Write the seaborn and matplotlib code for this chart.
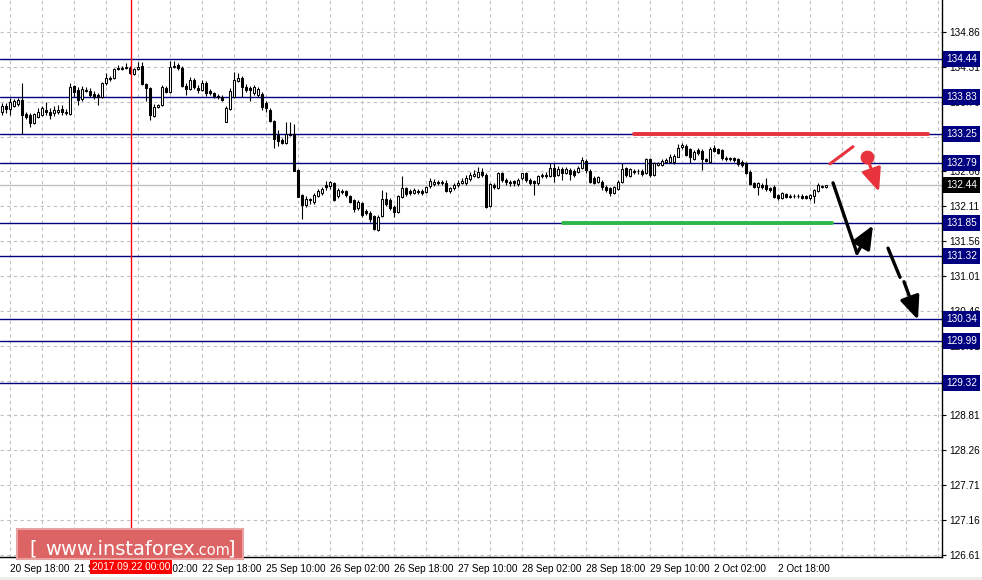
import numpy as np
import pandas as pd
import seaborn as sns
import matplotlib
matplotlib.use("Agg")
import matplotlib.pyplot as plt
from matplotlib.patches import Rectangle, FancyArrowPatch
from matplotlib.transforms import blended_transform_factory

# H1 candles, first bar = 20 Sep 16:00
opens = [
    133.60, 133.69, 133.64, 133.69, 133.72, 133.79, 133.57, 133.55, 133.42, 133.52,
    133.55, 133.63, 133.60, 133.58, 133.60, 133.64, 133.60, 133.57, 134.01, 133.94,
    133.80, 133.94, 133.93, 133.88, 133.87, 133.83, 134.05, 134.13, 134.13, 134.29,
    134.28, 134.29, 134.29, 134.20, 134.28, 134.32, 134.04, 133.98, 133.53, 133.68,
    133.71, 133.98, 133.91, 134.30, 134.34, 134.29, 134.01, 133.96, 134.10, 133.98,
    133.94, 134.05, 133.93, 133.90, 133.85, 133.83, 133.44, 133.64, 133.83, 134.09,
    134.13, 133.99, 133.98, 133.90, 133.87, 133.88, 133.74, 133.63, 133.46, 133.23,
    133.16, 133.11, 133.25, 133.25, 132.68, 132.29, 132.13, 132.23, 132.18, 132.27,
    132.32, 132.45, 132.43, 132.48, 132.27, 132.34, 132.35, 132.27, 132.21, 132.08,
    132.16, 132.04, 132.00, 131.96, 131.74, 131.96, 132.23, 132.21, 132.10, 132.02,
    132.26, 132.40, 132.35, 132.32, 132.35, 132.35, 132.34, 132.43, 132.46, 132.49,
    132.48, 132.48, 132.35, 132.40, 132.45, 132.48, 132.48, 132.54, 132.59, 132.57,
    132.65, 132.60, 132.11, 132.45, 132.40, 132.64, 132.53, 132.49, 132.51, 132.46,
    132.55, 132.64, 132.53, 132.51, 132.48, 132.59, 132.60, 132.59, 132.71, 132.60,
    132.70, 132.64, 132.68, 132.67, 132.65, 132.71, 132.82, 132.67, 132.56, 132.49,
    132.49, 132.41, 132.40, 132.32, 132.38, 132.49, 132.71, 132.59, 132.67, 132.67,
    132.67, 132.64, 132.86, 132.60, 132.76, 132.76, 132.81, 132.81, 132.81, 132.89,
    133.05, 133.06, 133.01, 132.86, 133.00, 132.98, 132.86, 132.81, 133.03, 133.01,
    133.00, 132.87, 132.87, 132.87, 132.86, 132.81, 132.79, 132.65, 132.48, 132.41,
    132.45, 132.45, 132.40, 132.41, 132.29, 132.24, 132.30, 132.26, 132.27, 132.28,
    132.27, 132.27, 132.24, 132.27, 132.35, 132.41, 132.42,
]
highs = [
    133.74, 133.74, 133.82, 133.80, 133.82, 134.05, 133.60, 133.58, 133.58, 133.66,
    133.69, 133.76, 133.66, 133.69, 133.71, 133.71, 133.64, 134.05, 134.02, 133.99,
    134.01, 133.99, 133.98, 133.93, 133.90, 134.07, 134.21, 134.17, 134.29, 134.34,
    134.32, 134.37, 134.32, 134.29, 134.39, 134.39, 134.05, 133.99, 133.72, 133.72,
    134.02, 134.01, 134.40, 134.40, 134.37, 134.32, 134.05, 134.15, 134.13, 134.02,
    134.10, 134.09, 133.96, 133.91, 133.88, 133.87, 133.69, 133.98, 134.23, 134.21,
    134.17, 134.04, 134.01, 134.02, 133.99, 133.91, 133.77, 133.66, 133.47, 133.31,
    133.19, 133.44, 133.44, 133.41, 132.70, 132.30, 132.27, 132.24, 132.32, 132.38,
    132.41, 132.51, 132.51, 132.49, 132.40, 132.38, 132.37, 132.29, 132.23, 132.21,
    132.18, 132.07, 132.04, 131.97, 131.97, 132.37, 132.34, 132.24, 132.13, 132.29,
    132.59, 132.41, 132.38, 132.40, 132.38, 132.38, 132.43, 132.56, 132.54, 132.53,
    132.53, 132.53, 132.41, 132.48, 132.53, 132.56, 132.60, 132.65, 132.68, 132.73,
    132.71, 132.64, 132.48, 132.48, 132.65, 132.65, 132.56, 132.53, 132.53, 132.56,
    132.64, 132.65, 132.56, 132.53, 132.60, 132.64, 132.65, 132.79, 132.79, 132.75,
    132.73, 132.73, 132.71, 132.70, 132.75, 132.89, 132.86, 132.70, 132.59, 132.59,
    132.53, 132.45, 132.41, 132.43, 132.53, 132.79, 132.73, 132.71, 132.70, 132.70,
    132.70, 132.87, 132.87, 132.81, 132.81, 132.86, 132.87, 132.94, 132.94, 133.09,
    133.11, 133.09, 133.03, 133.00, 133.03, 133.01, 132.87, 133.05, 133.08, 133.03,
    133.01, 132.90, 132.89, 132.89, 132.87, 132.84, 132.81, 132.68, 132.49, 132.49,
    132.48, 132.56, 132.41, 132.45, 132.30, 132.34, 132.32, 132.30, 132.30, 132.30,
    132.30, 132.29, 132.30, 132.38, 132.48, 132.45, 132.45,
]
lows = [
    133.55, 133.58, 133.55, 133.68, 133.69, 133.25, 133.49, 133.36, 133.41, 133.50,
    133.53, 133.55, 133.49, 133.53, 133.57, 133.55, 133.55, 133.55, 133.83, 133.71,
    133.77, 133.91, 133.83, 133.80, 133.71, 133.82, 134.02, 134.09, 134.12, 134.26,
    134.26, 134.28, 134.20, 134.18, 134.26, 134.02, 133.77, 133.47, 133.52, 133.66,
    133.69, 133.90, 133.90, 134.29, 134.26, 133.99, 133.87, 133.94, 133.96, 133.90,
    133.93, 133.85, 133.87, 133.82, 133.80, 133.77, 133.44, 133.63, 133.82, 134.07,
    133.83, 133.91, 133.77, 133.87, 133.83, 133.63, 133.60, 133.44, 133.03, 133.06,
    133.09, 133.09, 133.22, 132.66, 132.25, 131.91, 132.10, 132.15, 132.15, 132.26,
    132.29, 132.37, 132.38, 132.19, 132.24, 132.30, 132.26, 132.16, 132.02, 132.05,
    131.94, 131.97, 131.86, 131.74, 131.72, 131.94, 132.11, 132.05, 131.94, 132.00,
    132.24, 132.27, 132.29, 132.30, 132.30, 132.29, 132.32, 132.40, 132.43, 132.45,
    132.45, 132.34, 132.32, 132.37, 132.41, 132.46, 132.45, 132.51, 132.57, 132.56,
    132.57, 132.08, 132.10, 132.38, 132.38, 132.49, 132.45, 132.43, 132.43, 132.43,
    132.53, 132.49, 132.45, 132.29, 132.45, 132.56, 132.56, 132.57, 132.49, 132.59,
    132.53, 132.62, 132.53, 132.57, 132.64, 132.70, 132.64, 132.48, 132.46, 132.48,
    132.37, 132.34, 132.27, 132.30, 132.37, 132.48, 132.57, 132.57, 132.62, 132.62,
    132.59, 132.62, 132.57, 132.59, 132.75, 132.75, 132.79, 132.79, 132.78, 132.88,
    133.01, 132.90, 132.79, 132.84, 132.92, 132.68, 132.81, 132.80, 132.97, 132.94,
    132.84, 132.82, 132.82, 132.81, 132.75, 132.73, 132.62, 132.45, 132.40, 132.29,
    132.38, 132.35, 132.34, 132.24, 132.21, 132.23, 132.24, 132.24, 132.24, 132.24,
    132.23, 132.23, 132.21, 132.16, 132.34, 132.40, 132.40,
]
closes = [
    133.69, 133.64, 133.76, 133.77, 133.79, 133.55, 133.52, 133.42, 133.57, 133.60,
    133.66, 133.60, 133.55, 133.63, 133.63, 133.60, 133.58, 133.99, 133.91, 133.79,
    133.96, 133.93, 133.87, 133.83, 133.83, 134.05, 134.13, 134.12, 134.28, 134.28,
    134.29, 134.31, 134.21, 134.28, 134.31, 134.04, 133.98, 133.55, 133.68, 133.71,
    133.99, 133.91, 134.31, 134.32, 134.29, 134.01, 133.96, 134.10, 133.99, 133.94,
    134.05, 133.90, 133.90, 133.85, 133.84, 133.79, 133.66, 133.93, 134.10, 134.13,
    133.99, 133.94, 133.94, 133.99, 133.96, 133.68, 133.66, 133.46, 133.17, 133.14,
    133.11, 133.25, 133.23, 132.67, 132.26, 132.13, 132.23, 132.21, 132.29, 132.35,
    132.38, 132.41, 132.49, 132.21, 132.37, 132.35, 132.29, 132.18, 132.07, 132.18,
    131.97, 132.00, 131.91, 131.75, 131.94, 132.23, 132.15, 132.08, 132.02, 132.27,
    132.40, 132.30, 132.32, 132.37, 132.34, 132.32, 132.41, 132.51, 132.49, 132.48,
    132.49, 132.35, 132.40, 132.45, 132.48, 132.51, 132.56, 132.60, 132.62, 132.65,
    132.60, 132.10, 132.46, 132.41, 132.64, 132.53, 132.49, 132.48, 132.48, 132.53,
    132.63, 132.53, 132.48, 132.48, 132.59, 132.60, 132.59, 132.71, 132.59, 132.70,
    132.64, 132.70, 132.62, 132.60, 132.71, 132.84, 132.68, 132.49, 132.48, 132.57,
    132.41, 132.37, 132.32, 132.41, 132.49, 132.70, 132.60, 132.70, 132.65, 132.66,
    132.62, 132.86, 132.60, 132.79, 132.79, 132.82, 132.84, 132.89, 132.90, 133.03,
    133.08, 132.92, 132.89, 132.97, 132.95, 132.86, 132.82, 133.01, 132.98, 132.95,
    132.87, 132.86, 132.85, 132.84, 132.78, 132.76, 132.64, 132.46, 132.41, 132.48,
    132.41, 132.38, 132.37, 132.26, 132.24, 132.32, 132.26, 132.27, 132.28, 132.27,
    132.24, 132.24, 132.29, 132.37, 132.45, 132.43, 132.44,
]

time_labels = ["20 Sep 18:00", "21 Sep 10:00", "22 Sep 02:00", "22 Sep 18:00",
               "25 Sep 10:00", "26 Sep 02:00", "26 Sep 18:00", "27 Sep 10:00",
               "28 Sep 02:00", "28 Sep 18:00", "29 Sep 10:00", "2 Oct 02:00",
               "2 Oct 18:00"]
label_bars = [0, 16, 32, 48, 64, 80, 96, 112, 128, 144, 160, 176, 192]

price_ticks = [134.86, 134.31, 133.76, 133.21, 132.66, 132.11, 131.56, 131.01,
               130.46, 129.91, 129.36, 128.81, 128.26, 127.71, 127.16, 126.61]
levels = [134.44, 133.83, 133.25, 132.79, 131.85, 131.32, 130.34, 129.99, 129.32]
bid = 132.44
marker_bar = 30.25  # 2017.09.22 00:00

RED = "#e8323c"
GREEN = "#2fb84a"
NAVY = "#000080"

sns.set_theme(style="white")
plt.rcParams["font.family"] = ["Liberation Sans", "DejaVu Sans"]

fig = plt.figure(figsize=(9.82, 5.8), dpi=100)
ax = fig.add_axes([0, 23 / 580, 942 / 982, 557 / 580])
ax.set_facecolor("white")

df = pd.DataFrame({"bar": np.arange(-2, -2 + len(closes)), "open": opens,
                   "high": highs, "low": lows, "close": closes})
up = df["close"] >= df["open"]

ax.set_xlim(-2.5, 233)
ax.set_ylim(126.578, 135.364)

# grid
for b in range(0, 233, 8):
    ax.axvline(b, color="#c0c0c0", lw=0.8, ls=(0, (3, 3)), zorder=0)
for p in price_ticks:
    ax.axhline(p, color="#c0c0c0", lw=0.8, ls=(0, (3, 3)), zorder=0)

# levels and bid
for lv in levels:
    ax.axhline(lv, color=NAVY, lw=1, zorder=2)
ax.axhline(bid, color="#c0c0c0", lw=1, zorder=1)
ax.axvline(marker_bar, color="red", lw=1, zorder=5)

# candles
ax.vlines(df["bar"], df["low"], df["high"], color="black", lw=0.8, zorder=3)
ax.bar(df["bar"], (df["close"] - df["open"]).abs().clip(lower=0.004),
       bottom=df[["open", "close"]].min(axis=1), width=0.66,
       color=np.where(up, "white", "black"), edgecolor="black",
       linewidth=0.75, zorder=4)

# drawn support / resistance
sns.lineplot(x=[156, 229.5], y=[133.25, 133.25], color=RED, lw=2.8, ax=ax, zorder=6)
sns.lineplot(x=[138.25, 205.5], y=[131.85, 131.85], color=GREEN, lw=2.8, ax=ax, zorder=6)

# scenario arrows
head = "-|>,head_length=14,head_width=6"
ax.plot([205.0, 210.75], [132.78, 133.05], color=RED, lw=2.2, zorder=7)
sns.scatterplot(x=[214.25], y=[132.89], s=85, color=RED, edgecolor=RED, ax=ax, zorder=8)
ax.add_patch(FancyArrowPatch((214.25, 132.89), (217.25, 132.34), arrowstyle=head,
                             mutation_scale=1, color=RED, lw=2.2,
                             shrinkA=0, shrinkB=0, zorder=7))
ax.plot([205.75, 211.75], [132.48, 131.37], color="black", lw=2.4,
        solid_capstyle="round", zorder=7)
ax.add_patch(FancyArrowPatch((211.75, 131.37), (215.75, 131.81), arrowstyle=head,
                             mutation_scale=1, color="black", lw=2.4,
                             shrinkA=0, shrinkB=0, zorder=7))
ax.plot([219.5, 222.5], [131.45, 130.99], color="black", lw=2.4, zorder=7)
ax.add_patch(FancyArrowPatch((223.5, 130.92), (227.0, 130.32), arrowstyle=head,
                             mutation_scale=1, color="black", lw=2.4,
                             shrinkA=0, shrinkB=0, zorder=7))

# axes, ticks
for side in ["left", "top"]:
    ax.spines[side].set_visible(False)
for side in ["right", "bottom"]:
    ax.spines[side].set_color("black")
    ax.spines[side].set_linewidth(1)
ax.yaxis.tick_right()
ax.set_yticks(price_ticks)
ax.set_yticklabels([f"{p:.2f}" for p in price_ticks])
ax.set_xticks(label_bars)
ax.set_xticklabels(time_labels, ha="left")
ax.tick_params(axis="y", direction="out", length=3, width=0.8, pad=2,
               labelsize=7.2, colors="black")
ax.tick_params(axis="x", direction="out", length=3, width=0.8, pad=2,
               labelsize=7.2, colors="black")
ax.set_xlabel("")
ax.set_ylabel("")

trans_y = blended_transform_factory(ax.transAxes, ax.transData)
for lv in levels:
    ax.text(1.0045, lv, f"{lv:.2f}", transform=trans_y, color="white", fontsize=7.2,
            ha="left", va="center", clip_on=False, zorder=9,
            bbox=dict(boxstyle="square,pad=0.3", fc=NAVY, ec="none"))
ax.text(1.0045, bid, f"{bid:.2f}", transform=trans_y, color="white", fontsize=7.2,
        ha="left", va="center", clip_on=False, zorder=9,
        bbox=dict(boxstyle="square,pad=0.3", fc="black", ec="none"))

trans_x = blended_transform_factory(ax.transData, ax.transAxes)
ax.text(marker_bar, -0.018, "2017.09.22 00:00", transform=trans_x, color="white",
        fontsize=7.2, ha="center", va="center", clip_on=False, zorder=9,
        bbox=dict(boxstyle="square,pad=0.2", fc="red", ec="none"))

# watermark
fig.add_artist(Rectangle((17 / 982, 21 / 580), 226 / 982, 30 / 580,
                         transform=fig.transFigure, fc="#dc6464", ec="#e9a2a2",
                         lw=1.5, zorder=20))
fig.add_artist(Rectangle((0, 0), 1, 3 / 580, transform=fig.transFigure,
                         fc="#ececec", ec="none", zorder=20))
wm = dict(color="white", family="DejaVu Sans", va="baseline", zorder=21)
fig.text(29 / 982, 25.5 / 580, "[", fontsize=14, **wm)
fig.text(45 / 982, 25.3 / 580, "www.instaforex", fontsize=14, **wm)
fig.text(194 / 982, 25.3 / 580, ".com", fontsize=10.5, **wm)
fig.text(227 / 982, 25.5 / 580, "]", fontsize=14, **wm)

fig.savefig("out.png", dpi=100)
